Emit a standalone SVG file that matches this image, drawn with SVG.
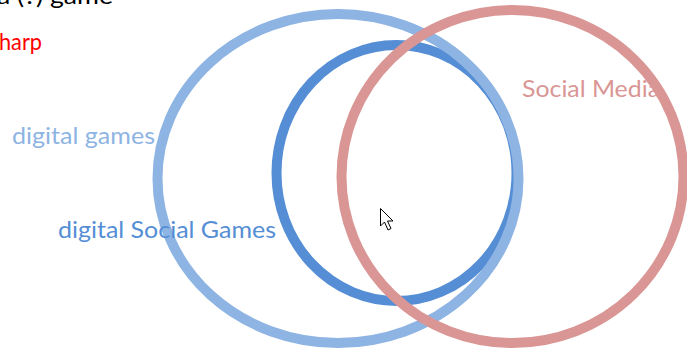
<svg xmlns="http://www.w3.org/2000/svg" width="687" height="349" viewBox="0 0 687 349">
<style>
.ring{fill:none;stroke-width:10}
.lb{stroke:#8EB4E3}
.db{stroke:#558ED5}
.pk{stroke:#D99694}
text{font-family:Lato,"Open Sans","Liberation Sans",sans-serif;font-size:24px}
</style>
<rect width="687" height="349" fill="#fff"/>
<g id="connectors"/>
<g id="digital-social-games"><ellipse class="ring db" cx="396.5" cy="173" rx="120" ry="128"/></g>
<g id="digital-games"><ellipse class="ring lb" cx="338" cy="178.5" rx="180.5" ry="164.5"/></g>
<g id="social-media"><ellipse class="ring pk" cx="512.5" cy="176.5" rx="171" ry="166.5"/></g>
<g id="labels">
<text x="-3" y="4" fill="#000" textLength="116" lengthAdjust="spacingAndGlyphs">a (?) game</text>
<text x="-1" y="50" fill="#FF0000" textLength="43" lengthAdjust="spacingAndGlyphs">harp</text>
<text x="12" y="144" fill="#8EB4E3" textLength="143" lengthAdjust="spacingAndGlyphs">digital games</text>
<text x="58" y="238" fill="#558ED5" textLength="218" lengthAdjust="spacingAndGlyphs">digital Social Games</text>
<text x="522" y="97" fill="#D99694" textLength="138" lengthAdjust="spacingAndGlyphs">Social Media</text>
</g>
<g id="cursor"><polygon points="380.5,208.5 380.5,226 384.5,222 388,230 391,228.5 387.5,221 393,221" fill="#fff" stroke="#000" stroke-width="1"/></g>
</svg>
